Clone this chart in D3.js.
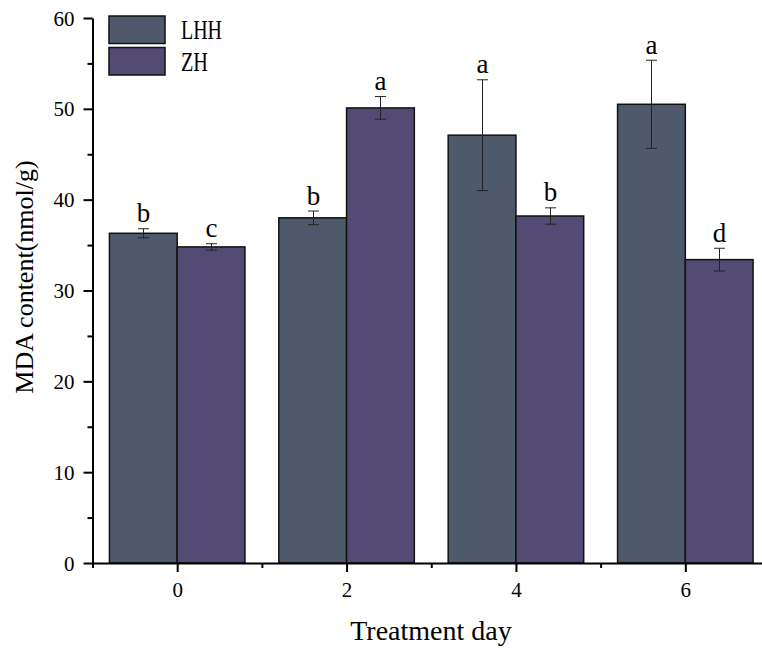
<!DOCTYPE html>
<html>
<head>
<meta charset="utf-8">
<script src="https://cdn.jsdelivr.net/npm/d3@7"></script>
<style>
  html, body { margin: 0; padding: 0; background: #fff; }
  svg { display: block; }
  text { font-family: "Liberation Serif", "Times New Roman", serif; fill: #000; }
</style>
</head>
<body>
<svg id="chart" width="762" height="649"></svg>
<script>
// ---- data ----
const days = [0, 2, 4, 6];
const dayLabels = ["0", "2", "4", "6"];
const seriesNames = ["LHH", "ZH"];
const seriesColors = ["#4E5A6C", "#534B74"];
const lhh = [36.3, 38.0, 47.1, 50.5];
const zh = [34.8, 50.1, 38.2, 33.4];
const lhhErr = [0.5, 0.75, 6.1, 4.85];
const zhErr = [0.35, 1.25, 0.9, 1.25];
const lhhLetters = ["b", "b", "a", "a"];
const zhLetters = ["c", "a", "b", "d"];
const yMajorTicks = [0, 10, 20, 30, 40, 50, 60];
const yMinorTicks = [5, 15, 25, 35, 45, 55];
const xMinorTicks = [-1, 1, 3, 5, 7];

const FONT = "'Liberation Serif', 'Times New Roman', serif";

// ---- layout ----
const svg = d3.select("#chart");
const x = d3.scaleLinear().domain([-1, 7]).range([92.5, 770]);
const y = d3.scaleLinear().domain([0, 60]).range([563, 18]);
const barW = 0.8; // in x units
const halfBar = barW / 2;

const series = [
  { name: seriesNames[0], values: lhh, err: lhhErr, letters: lhhLetters, color: seriesColors[0], offset: -barW },
  { name: seriesNames[1], values: zh, err: zhErr, letters: zhLetters, color: seriesColors[1], offset: 0 }
];

// ---- bars ----
series.forEach(s => {
  const g = svg.append("g");
  g.selectAll("rect").data(days).join("rect")
    .attr("x", (d) => x(d + s.offset))
    .attr("width", (d) => x(d + s.offset + barW) - x(d + s.offset))
    .attr("y", (d, i) => y(s.values[i]))
    .attr("height", (d, i) => y(0) - y(s.values[i]))
    .attr("fill", s.color)
    .attr("stroke", "#111")
    .attr("stroke-width", 1.5);
});

// ---- error bars & letters ----
series.forEach(s => {
  const g = svg.append("g");
  days.forEach((d, i) => {
    const cx = Math.round(x(d + s.offset + halfBar)) + 0.5;
    const top = y(s.values[i] + s.err[i]);
    const bot = y(s.values[i] - s.err[i]);
    g.append("line").attr("x1", cx).attr("x2", cx).attr("y1", top).attr("y2", bot)
      .attr("stroke", "#222").attr("stroke-width", 1);
    [top, bot].forEach(yy => {
      g.append("line").attr("x1", cx - 5.5).attr("x2", cx + 5.5).attr("y1", yy).attr("y2", yy)
        .attr("stroke", "#222").attr("stroke-width", 1);
    });
    g.append("text")
      .attr("x", cx).attr("y", top - 6.5)
      .attr("text-anchor", "middle")
      .attr("font-family", FONT)
      .attr("font-size", 27)
      .text(s.letters[i]);
  });
});

// ---- axes ----
const yAxisMajor = d3.axisLeft(y).tickValues(yMajorTicks).tickSize(9).tickSizeOuter(0).tickPadding(9).tickFormat(d3.format("d"));
const yAxisMinor = d3.axisLeft(y).tickValues(yMinorTicks).tickSize(5).tickSizeOuter(0).tickFormat("");
const gy = svg.append("g").attr("transform", "translate(92.5,0)").call(yAxisMajor);
svg.append("g").attr("transform", "translate(92.5,0)").call(yAxisMinor).select(".domain").remove();
gy.attr("font-family", FONT);
gy.selectAll("text").attr("font-size", 21).attr("font-family", FONT).attr("dy", "0.34em");

const xAxisMajor = d3.axisBottom(x).tickValues(days).tickSize(9).tickSizeOuter(0).tickPadding(10).tickFormat((d, i) => dayLabels[i]);
const xAxisMinor = d3.axisBottom(x).tickValues(xMinorTicks).tickSize(5).tickSizeOuter(0).tickFormat("");
const gx = svg.append("g").attr("transform", "translate(0,563)").call(xAxisMajor);
svg.append("g").attr("transform", "translate(0,563)").call(xAxisMinor).select(".domain").remove();
gx.attr("font-family", FONT);
gx.selectAll("text").attr("font-size", 21).attr("font-family", FONT);

svg.selectAll(".domain").attr("stroke", "#000").attr("stroke-width", 2);
svg.selectAll(".tick line").attr("stroke", "#000").attr("stroke-width", 2);

// ---- axis titles ----
svg.append("text")
  .attr("x", 431).attr("y", 640)
  .attr("text-anchor", "middle")
  .attr("font-family", FONT)
  .attr("font-size", 28)
  .text("Treatment day");

svg.append("text")
  .attr("transform", "translate(33,277) rotate(-90)")
  .attr("text-anchor", "middle")
  .attr("font-family", FONT)
  .attr("font-size", 26)
  .text("MDA content(nmol/g)");

// ---- legend ----
const legend = svg.append("g");
series.forEach((s, i) => {
  const ly = 16 + i * 31.5;
  legend.append("rect")
    .attr("x", 109).attr("y", ly).attr("width", 56).attr("height", 27.5)
    .attr("fill", s.color).attr("stroke", "#111").attr("stroke-width", 1.5);
  legend.append("text")
    .attr("x", 181).attr("y", ly + 23)
    .attr("font-family", FONT)
    .attr("font-size", 27)
    .attr("textLength", i === 0 ? 41 : 27)
    .attr("lengthAdjust", "spacingAndGlyphs")
    .text(s.name);
});
</script>
</body>
</html>
